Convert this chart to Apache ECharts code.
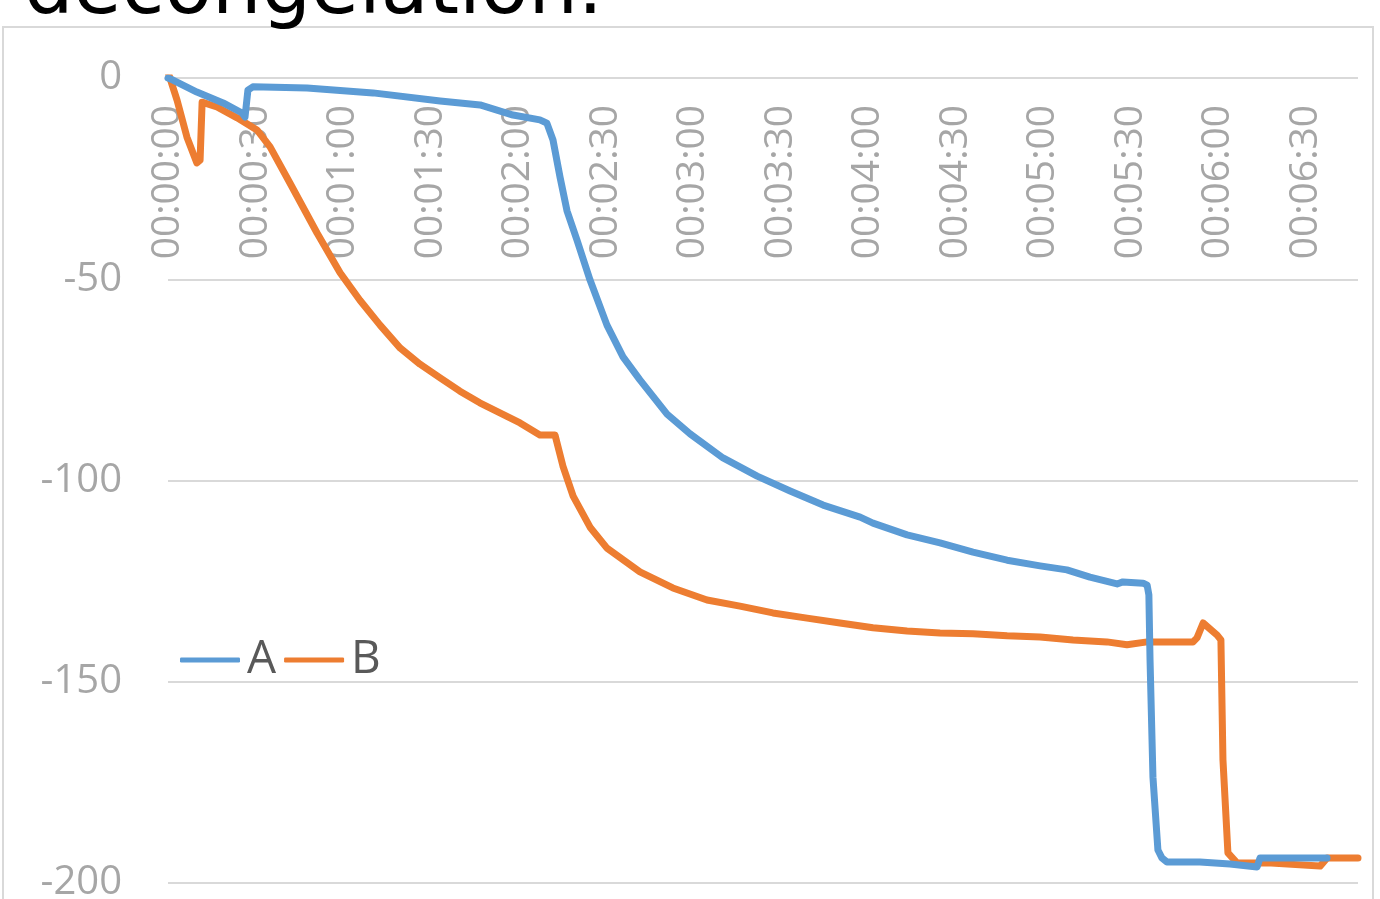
<!DOCTYPE html>
<html>
<head>
<meta charset="utf-8">
<script src="https://cdn.jsdelivr.net/npm/echarts@6/dist/echarts.min.js"></script>
<style>
html,body{margin:0;padding:0;background:#fff;}
#chart{width:1380px;height:899px;}
</style>
</head>
<body>
<div id="chart"></div>
<script>
// Title (partially cut off at the top of the picture)
const titleText = 'decongelation.';
// Series names
const seriesNames = ['A', 'B'];
// Y axis ticks
const yTicks = [0, -50, -100, -150, -200];
// Elapsed time (seconds) and value, series A
const timeA = [0, 1.7, 9.9, 18.9, 25.4, 26.4, 27.4, 29.1, 47.7, 70.3, 93.3, 107, 118.3, 127.5, 129.9, 132, 134.4, 136.8, 140.2, 144.7, 150.5, 156, 161.8, 171.1, 179, 190.3, 202, 213.3, 224.6, 237.3, 241.7, 253.4, 264.7, 276, 287.7, 299, 308.2, 316.1, 325.4, 327.4, 334.3, 335.7, 336.3, 336.7, 337.7, 339.4, 340.8, 342.5, 353.8, 364.1, 373.4, 374.4, 397.4];
const valueA = [0, -0.5, -3.5, -6.2, -8.7, -9.7, -3.0, -2.2, -2.5, -3.7, -5.7, -6.7, -9.2, -10.4, -11.2, -15.4, -24.6, -33.0, -40.2, -50.2, -61.4, -69.3, -75.0, -83.5, -88.4, -94.4, -98.9, -102.6, -106.1, -109.1, -110.6, -113.5, -115.5, -117.8, -119.8, -121.2, -122.2, -124.0, -125.7, -125.2, -125.5, -126.0, -128.4, -144.6, -173.7, -191.8, -193.8, -194.8, -194.8, -195.3, -196.0, -193.8, -193.8];
// Elapsed time (seconds) and value, series B
const timeB = [0, 3.1, 6.5, 9.9, 11, 11.7, 16.8, 23.7, 30.5, 35, 41.8, 51.1, 59, 65.8, 72.7, 79.6, 86.4, 93.3, 100.1, 106.9, 113.8, 120.7, 127.5, 132.7, 135.4, 138.9, 144.7, 150.5, 161.8, 173.1, 184.8, 196.1, 207.4, 219.1, 230.4, 241.7, 253.4, 264.7, 276, 287.7, 299, 310.3, 321.9, 328.8, 335.7, 351.4, 352.8, 354.9, 359.7, 361.0, 361.7, 363.4, 366.5, 376.8, 395, 395.6, 397.4, 408];
const valueB = [1.5, -5.5, -14.7, -21.1, -20.4, -6.0, -7.2, -9.9, -12.9, -17.1, -26.1, -38.5, -48.4, -55.2, -61.4, -67.1, -71.1, -74.5, -77.8, -80.7, -83.2, -85.7, -88.7, -88.7, -96.4, -103.9, -111.6, -116.8, -122.7, -126.7, -129.7, -131.2, -132.9, -134.2, -135.4, -136.6, -137.4, -137.9, -138.1, -138.6, -138.9, -139.6, -140.1, -140.8, -140.1, -140.1, -139.1, -135.4, -138.4, -139.6, -169.4, -192.5, -195.0, -195.0, -195.8, -195.8, -193.8, -193.8];

function pairs(t, v) { return t.map((x, i) => [x, v[i]]); }
function fmtTime(s) {
  const h = Math.floor(s / 3600), m = Math.floor((s % 3600) / 60), sec = s % 60;
  const p = n => String(n).padStart(2, '0');
  return p(h) + ':' + p(m) + ':' + p(sec);
}

const chart = echarts.init(document.getElementById('chart'));
const labelFont = 'Open Sans';
chart.setOption({
  animation: false,
  backgroundColor: '#ffffff',
  color: ['#5B9BD5', '#ED7D31'],
  graphic: [
    { type: 'rect', shape: { x: 3, y: 27, width: 1370, height: 900 },
      style: { fill: 'none', stroke: '#d9d9d9', lineWidth: 2 }, z: 0, silent: true },
    { type: 'text', x: 24, y: -7,
      style: { text: titleText, font: '78px "DejaVu Sans"', fill: '#000000', verticalAlign: 'middle' }, z: 10 }
  ],
  legend: {
    data: seriesNames,
    left: 180, top: 637, padding: 0,
    icon: 'roundRect', itemWidth: 60, itemHeight: 5, itemGap: 8,
    textStyle: { fontFamily: labelFont, fontSize: 46, color: '#595959', padding: [0, 0, 0, 2] }
  },
  grid: { left: 168, right: 22, top: 78, bottom: 16, containLabel: false, outerBoundsMode: 'none' },
  xAxis: {
    type: 'value', min: 0, max: 408, interval: 30,
    position: 'top',
    axisLine: { show: false },
    axisTick: { show: false },
    splitLine: { show: false },
    axisLabel: {
      inside: true, rotate: 90, margin: 27, fontFamily: labelFont, fontSize: 39, color: '#a6a6a6',
      formatter: v => (v % 30 === 0 ? fmtTime(v) : '')
    }
  },
  yAxis: {
    type: 'value', min: yTicks[yTicks.length - 1], max: yTicks[0], interval: 50,
    axisLine: { show: false },
    axisTick: { show: false },
    splitLine: { lineStyle: { color: '#d9d9d9', width: 2 } },
    axisLabel: { margin: 46, fontFamily: labelFont, fontSize: 40, color: '#a6a6a6' }
  },
  series: [
    { name: seriesNames[0], type: 'line', data: pairs(timeA, valueA), showSymbol: false,
      lineStyle: { width: 7, cap: 'round', join: 'round' }, z: 3 },
    { name: seriesNames[1], type: 'line', data: pairs(timeB, valueB), showSymbol: false,
      lineStyle: { width: 7, cap: 'round', join: 'round' }, z: 2 }
  ]
});
</script>
</body>
</html>
